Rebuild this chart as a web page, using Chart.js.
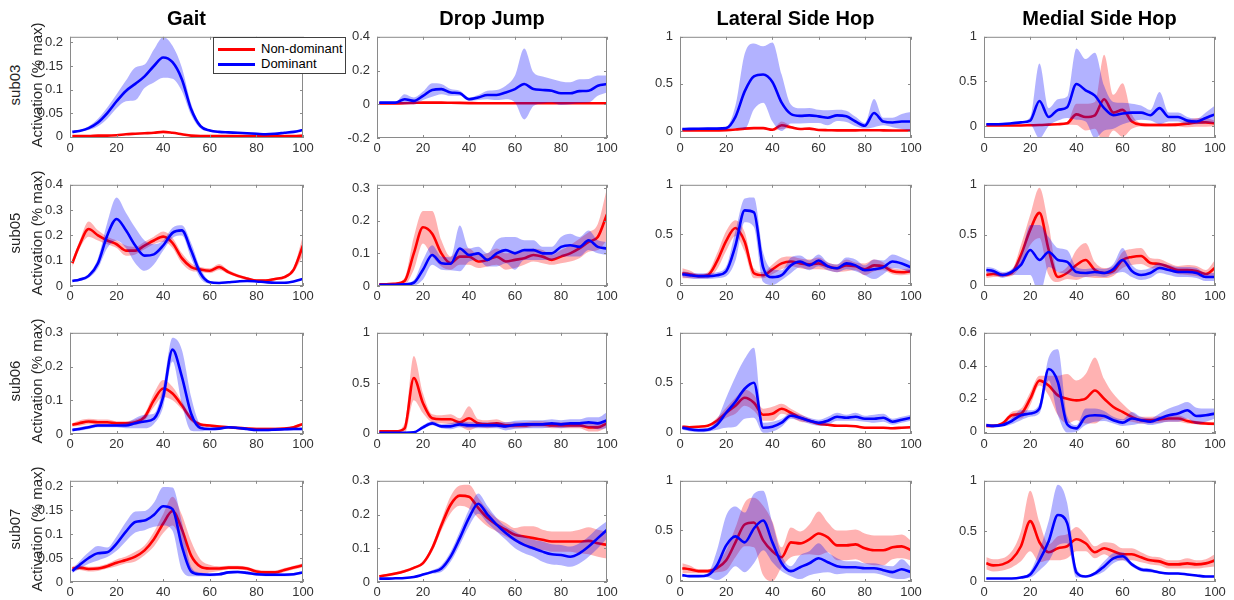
<!DOCTYPE html>
<html>
<head>
<meta charset="utf-8">
<script src="https://cdn.jsdelivr.net/npm/chart.js@4/dist/chart.umd.min.js"></script>
<style>
  body { margin: 0; background: #fff; font-family: "Liberation Sans", Arial, sans-serif; }
  #wrap { position: relative; width: 1234px; height: 600px; overflow: hidden; }
  canvas { position: absolute; }
  .title { position: absolute; top: 8px; font-size: 20px; line-height: 20px; font-weight: bold; color: #000; white-space: nowrap; transform: translateX(-50%); }
  .ylab { position: absolute; font-size: 15px; line-height: 17px; color: #262626; white-space: nowrap; transform: translate(-50%, -50%) rotate(-90deg); }
  .legend { position: absolute; left: 213px; top: 37px; width: 131px; height: 35px; background: #fff; border: 1px solid #404040; font-size: 13px; color: #000; }
  .legend .row { position: absolute; left: 4px; height: 15px; line-height: 15px; white-space: nowrap; }
  .legend .swatch { display: inline-block; width: 37px; height: 3px; vertical-align: middle; margin-right: 6px; }
</style>
</head>
<body>
<div id="wrap"></div>
<script>
// % of movement cycle
const pct = [1, 4, 8, 12, 16, 20, 24, 28, 32, 36, 40, 44, 48, 52, 56, 60, 64, 68, 72, 76, 80, 84, 88, 92, 96, 100];
const xTicks = [0, 20, 40, 60, 80, 100];
const tasks = ['Gait', 'Drop Jump', 'Lateral Side Hop', 'Medial Side Hop'];
const subjects = ['sub03', 'sub05', 'sub06', 'sub07'];
const seriesNames = ['Non-dominant', 'Dominant'];

// sub03
const gait03Nd   = [0.001,0.001,0.001,0.002,0.002,0.003,0.005,0.006,0.007,0.008,0.010,0.008,0.005,0.002,0.001,0.001,0.001,0.001,0.001,0.001,0.001,0.001,0.001,0.001,0.001,0.002];
const gait03NdSd = [0.001,0.001,0.001,0.001,0.001,0.001,0.001,0.001,0.001,0.001,0.002,0.001,0.001,0.001,0.001,0.001,0.001,0.001,0.001,0.001,0.001,0.001,0.001,0.001,0.001,0.001];
const gait03D    = [0.010,0.012,0.018,0.030,0.050,0.075,0.097,0.112,0.128,0.150,0.168,0.158,0.122,0.058,0.022,0.013,0.010,0.009,0.008,0.007,0.006,0.005,0.006,0.008,0.010,0.014];
const gait03DSd  = [0.002,0.002,0.004,0.008,0.012,0.015,0.022,0.035,0.025,0.035,0.043,0.035,0.025,0.012,0.005,0.002,0.002,0.002,0.002,0.002,0.002,0.002,0.002,0.002,0.002,0.002];

const dj03Nd   = [0.005,0.005,0.005,0.006,0.008,0.010,0.010,0.010,0.009,0.008,0.007,0.006,0.006,0.006,0.006,0.006,0.006,0.006,0.006,0.006,0.006,0.006,0.006,0.006,0.006,0.006];
const dj03NdSd = [0.003,0.003,0.003,0.003,0.003,0.003,0.003,0.003,0.003,0.003,0.003,0.003,0.003,0.003,0.003,0.003,0.003,0.003,0.003,0.003,0.003,0.003,0.003,0.003,0.003,0.003];
const dj03D    = [0.010,0.010,0.010,0.030,0.020,0.050,0.085,0.090,0.070,0.065,0.030,0.040,0.055,0.055,0.070,0.090,0.120,0.090,0.085,0.080,0.065,0.065,0.078,0.080,0.110,0.120];
const dj03DSd  = [0.005,0.005,0.005,0.030,0.020,0.025,0.040,0.030,0.020,0.015,0.010,0.015,0.025,0.030,0.040,0.080,0.210,0.100,0.080,0.070,0.070,0.065,0.070,0.070,0.060,0.050];

const lat03Nd   = [0.005,0.005,0.005,0.005,0.006,0.008,0.015,0.025,0.030,0.030,0.012,0.060,0.040,0.020,0.025,0.010,0.008,0.006,0.006,0.006,0.008,0.008,0.006,0.005,0.005,0.005];
const lat03NdSd = [0.005,0.005,0.005,0.005,0.005,0.005,0.008,0.010,0.010,0.010,0.010,0.040,0.015,0.010,0.010,0.008,0.005,0.005,0.005,0.005,0.005,0.005,0.005,0.005,0.005,0.005];
const lat03D    = [0.020,0.022,0.024,0.025,0.025,0.030,0.150,0.420,0.580,0.600,0.520,0.300,0.180,0.160,0.165,0.155,0.140,0.165,0.155,0.100,0.055,0.190,0.100,0.090,0.100,0.100];
const lat03DSd  = [0.010,0.010,0.010,0.010,0.010,0.015,0.120,0.400,0.350,0.300,0.420,0.300,0.100,0.080,0.080,0.070,0.080,0.060,0.060,0.050,0.030,0.150,0.040,0.050,0.080,0.100];

const med03Nd   = [0.005,0.005,0.005,0.005,0.006,0.008,0.010,0.015,0.020,0.030,0.130,0.100,0.120,0.300,0.150,0.180,0.050,0.015,0.010,0.010,0.012,0.015,0.025,0.040,0.040,0.030];
const med03NdSd = [0.005,0.005,0.005,0.005,0.005,0.005,0.008,0.010,0.010,0.015,0.120,0.150,0.150,0.500,0.200,0.300,0.080,0.020,0.020,0.020,0.020,0.020,0.040,0.050,0.050,0.030];
const med03D    = [0.020,0.020,0.022,0.030,0.040,0.060,0.280,0.100,0.180,0.210,0.470,0.400,0.340,0.200,0.120,0.140,0.150,0.150,0.120,0.200,0.100,0.100,0.060,0.050,0.090,0.130];
const med03DSd  = [0.010,0.010,0.010,0.010,0.010,0.040,0.420,0.100,0.120,0.120,0.400,0.350,0.480,0.250,0.150,0.120,0.100,0.080,0.060,0.180,0.050,0.050,0.040,0.030,0.060,0.100];

// sub05
const gait05Nd   = [0.090,0.160,0.225,0.200,0.180,0.165,0.140,0.140,0.160,0.180,0.195,0.170,0.110,0.075,0.065,0.060,0.075,0.055,0.040,0.030,0.022,0.022,0.028,0.035,0.065,0.160];
const gait05NdSd = [0.015,0.015,0.030,0.020,0.015,0.015,0.020,0.015,0.015,0.015,0.020,0.020,0.020,0.015,0.010,0.010,0.012,0.008,0.006,0.005,0.005,0.005,0.005,0.006,0.010,0.040];
const gait05D    = [0.020,0.025,0.040,0.090,0.200,0.265,0.220,0.160,0.120,0.125,0.160,0.210,0.220,0.140,0.050,0.015,0.012,0.015,0.018,0.020,0.018,0.015,0.013,0.013,0.018,0.028];
const gait05DSd  = [0.005,0.005,0.008,0.020,0.050,0.085,0.070,0.070,0.060,0.040,0.020,0.020,0.020,0.030,0.020,0.005,0.003,0.003,0.003,0.003,0.003,0.003,0.003,0.003,0.003,0.003];

const dj05Nd   = [0.005,0.005,0.007,0.015,0.100,0.180,0.160,0.100,0.070,0.090,0.090,0.075,0.080,0.090,0.075,0.080,0.085,0.095,0.090,0.080,0.090,0.100,0.115,0.135,0.150,0.220];
const dj05NdSd = [0.002,0.002,0.003,0.010,0.050,0.050,0.070,0.040,0.020,0.025,0.025,0.020,0.020,0.025,0.025,0.025,0.020,0.020,0.020,0.015,0.020,0.025,0.030,0.030,0.040,0.080];
const dj05D    = [0.004,0.004,0.004,0.005,0.010,0.050,0.095,0.070,0.068,0.115,0.095,0.100,0.080,0.100,0.110,0.100,0.110,0.110,0.100,0.100,0.120,0.125,0.120,0.140,0.120,0.115];
const dj05DSd  = [0.002,0.002,0.002,0.003,0.008,0.030,0.030,0.020,0.020,0.070,0.020,0.020,0.020,0.040,0.040,0.050,0.030,0.030,0.020,0.020,0.030,0.035,0.030,0.030,0.020,0.020];

const lat05Nd   = [0.100,0.090,0.070,0.080,0.220,0.430,0.560,0.420,0.100,0.080,0.140,0.200,0.220,0.200,0.190,0.200,0.170,0.150,0.180,0.170,0.140,0.180,0.170,0.120,0.110,0.120];
const lat05NdSd = [0.050,0.040,0.020,0.030,0.080,0.100,0.080,0.100,0.050,0.030,0.050,0.060,0.050,0.050,0.050,0.060,0.040,0.040,0.060,0.040,0.060,0.060,0.040,0.030,0.030,0.030];
const lat05D    = [0.090,0.080,0.070,0.070,0.080,0.120,0.380,0.740,0.720,0.160,0.060,0.080,0.180,0.220,0.180,0.230,0.170,0.150,0.200,0.180,0.130,0.140,0.160,0.220,0.200,0.160];
const lat05DSd  = [0.030,0.030,0.030,0.030,0.030,0.050,0.150,0.120,0.150,0.150,0.080,0.050,0.080,0.060,0.050,0.060,0.040,0.040,0.060,0.060,0.050,0.100,0.070,0.070,0.060,0.060];

const med05Nd   = [0.100,0.110,0.100,0.120,0.300,0.550,0.720,0.350,0.080,0.120,0.200,0.250,0.150,0.120,0.140,0.250,0.280,0.290,0.220,0.210,0.180,0.150,0.150,0.140,0.110,0.170];
const med05NdSd = [0.030,0.030,0.020,0.030,0.100,0.150,0.250,0.250,0.050,0.060,0.150,0.170,0.080,0.050,0.050,0.080,0.080,0.080,0.050,0.050,0.040,0.040,0.050,0.050,0.040,0.080];
const med05D    = [0.150,0.140,0.100,0.130,0.200,0.350,0.250,0.330,0.250,0.230,0.130,0.120,0.130,0.120,0.160,0.250,0.140,0.100,0.120,0.170,0.150,0.130,0.130,0.120,0.080,0.080];
const med05DSd  = [0.030,0.030,0.030,0.030,0.100,0.250,0.350,0.150,0.120,0.120,0.050,0.040,0.040,0.040,0.050,0.120,0.060,0.050,0.050,0.050,0.050,0.050,0.050,0.050,0.040,0.040];

// sub06
const gait06Nd   = [0.027,0.032,0.037,0.035,0.035,0.032,0.032,0.035,0.050,0.100,0.135,0.120,0.085,0.045,0.028,0.025,0.022,0.020,0.018,0.016,0.015,0.015,0.015,0.016,0.020,0.030];
const gait06NdSd = [0.005,0.008,0.008,0.008,0.008,0.006,0.006,0.008,0.010,0.020,0.025,0.020,0.012,0.008,0.005,0.004,0.004,0.004,0.004,0.004,0.004,0.004,0.004,0.004,0.004,0.004];
const gait06D    = [0.012,0.015,0.020,0.025,0.025,0.025,0.025,0.032,0.037,0.045,0.110,0.250,0.170,0.060,0.018,0.015,0.016,0.020,0.018,0.015,0.012,0.012,0.013,0.014,0.015,0.015];
const gait06DSd  = [0.004,0.005,0.005,0.005,0.005,0.005,0.008,0.015,0.020,0.015,0.030,0.035,0.080,0.050,0.010,0.004,0.004,0.004,0.004,0.004,0.004,0.004,0.004,0.004,0.004,0.004];

const dj06Nd   = [0.020,0.020,0.020,0.050,0.550,0.300,0.150,0.140,0.140,0.110,0.150,0.100,0.090,0.100,0.080,0.080,0.080,0.090,0.090,0.080,0.080,0.080,0.080,0.060,0.060,0.100];
const dj06NdSd = [0.005,0.005,0.005,0.050,0.220,0.100,0.040,0.040,0.050,0.040,0.120,0.040,0.040,0.040,0.030,0.030,0.030,0.030,0.030,0.030,0.030,0.030,0.030,0.040,0.040,0.040];
const dj06D    = [0.005,0.005,0.005,0.005,0.010,0.060,0.100,0.070,0.070,0.090,0.080,0.080,0.080,0.080,0.070,0.085,0.090,0.090,0.090,0.100,0.090,0.100,0.100,0.110,0.100,0.130];
const dj06DSd  = [0.005,0.005,0.005,0.005,0.005,0.020,0.020,0.020,0.030,0.030,0.030,0.030,0.030,0.030,0.040,0.040,0.040,0.040,0.040,0.040,0.040,0.040,0.040,0.050,0.060,0.080];

const lat06Nd   = [0.060,0.055,0.060,0.070,0.120,0.200,0.270,0.350,0.300,0.180,0.190,0.240,0.200,0.150,0.120,0.090,0.080,0.070,0.070,0.065,0.050,0.050,0.050,0.045,0.050,0.055];
const lat06NdSd = [0.010,0.010,0.010,0.010,0.030,0.050,0.080,0.080,0.080,0.060,0.070,0.050,0.040,0.040,0.020,0.015,0.010,0.010,0.010,0.010,0.010,0.010,0.010,0.010,0.010,0.010];
const lat06D    = [0.050,0.035,0.025,0.030,0.080,0.200,0.310,0.440,0.500,0.050,0.060,0.100,0.170,0.150,0.120,0.100,0.120,0.160,0.150,0.160,0.140,0.140,0.150,0.110,0.130,0.150];
const lat06DSd  = [0.020,0.020,0.020,0.020,0.050,0.150,0.250,0.300,0.350,0.050,0.050,0.040,0.030,0.030,0.030,0.030,0.040,0.040,0.030,0.040,0.030,0.040,0.040,0.030,0.030,0.030];

const med06Nd   = [0.035,0.035,0.050,0.100,0.110,0.200,0.310,0.280,0.220,0.200,0.190,0.200,0.250,0.200,0.150,0.120,0.090,0.070,0.070,0.075,0.080,0.080,0.065,0.055,0.050,0.048];
const med06NdSd = [0.010,0.010,0.010,0.020,0.030,0.040,0.030,0.060,0.120,0.150,0.120,0.150,0.200,0.120,0.080,0.050,0.030,0.020,0.020,0.020,0.020,0.020,0.015,0.010,0.010,0.010];
const med06D    = [0.040,0.035,0.040,0.065,0.100,0.110,0.140,0.380,0.300,0.045,0.020,0.090,0.100,0.095,0.070,0.055,0.080,0.070,0.060,0.080,0.100,0.110,0.130,0.095,0.100,0.110];
const med06DSd  = [0.010,0.010,0.010,0.020,0.030,0.020,0.030,0.070,0.200,0.050,0.020,0.050,0.040,0.030,0.020,0.020,0.040,0.020,0.020,0.030,0.040,0.050,0.050,0.050,0.040,0.030];

// sub07
const gait07Nd   = [0.028,0.030,0.027,0.028,0.033,0.040,0.046,0.053,0.066,0.089,0.122,0.148,0.110,0.055,0.032,0.028,0.028,0.030,0.030,0.028,0.022,0.020,0.020,0.025,0.030,0.035];
const gait07NdSd = [0.005,0.005,0.005,0.005,0.005,0.007,0.007,0.010,0.010,0.015,0.020,0.030,0.030,0.030,0.015,0.008,0.005,0.004,0.004,0.004,0.004,0.004,0.004,0.004,0.004,0.004];
const gait07D    = [0.023,0.035,0.050,0.060,0.062,0.080,0.105,0.125,0.128,0.140,0.158,0.152,0.075,0.022,0.016,0.015,0.016,0.020,0.021,0.019,0.016,0.015,0.015,0.015,0.016,0.020];
const gait07DSd  = [0.004,0.008,0.012,0.015,0.010,0.015,0.020,0.022,0.020,0.025,0.040,0.045,0.050,0.010,0.004,0.003,0.003,0.003,0.003,0.003,0.003,0.003,0.003,0.003,0.003,0.003];

const dj07Nd   = [0.017,0.020,0.025,0.032,0.042,0.056,0.100,0.168,0.229,0.256,0.253,0.220,0.190,0.170,0.155,0.140,0.135,0.130,0.125,0.120,0.120,0.120,0.120,0.122,0.115,0.110];
const dj07NdSd = [0.004,0.004,0.004,0.004,0.004,0.005,0.010,0.015,0.025,0.030,0.035,0.030,0.025,0.020,0.020,0.020,0.030,0.035,0.030,0.030,0.030,0.030,0.035,0.040,0.040,0.040];
const dj07D    = [0.010,0.010,0.011,0.012,0.015,0.022,0.030,0.040,0.075,0.130,0.190,0.232,0.200,0.170,0.145,0.125,0.110,0.100,0.090,0.082,0.080,0.075,0.085,0.105,0.130,0.155];
const dj07DSd  = [0.002,0.002,0.002,0.002,0.002,0.003,0.005,0.010,0.015,0.020,0.025,0.030,0.025,0.020,0.020,0.025,0.025,0.025,0.030,0.030,0.030,0.030,0.030,0.030,0.030,0.025];

const lat07Nd   = [0.120,0.110,0.090,0.090,0.120,0.200,0.380,0.560,0.580,0.400,0.290,0.230,0.380,0.370,0.410,0.470,0.430,0.350,0.350,0.360,0.320,0.300,0.300,0.330,0.340,0.300];
const lat07NdSd = [0.050,0.040,0.020,0.020,0.040,0.100,0.150,0.220,0.250,0.350,0.300,0.100,0.150,0.120,0.150,0.220,0.150,0.150,0.150,0.150,0.150,0.150,0.150,0.120,0.120,0.100];
const lat07D    = [0.050,0.040,0.040,0.050,0.150,0.350,0.440,0.380,0.520,0.600,0.380,0.170,0.090,0.130,0.170,0.220,0.180,0.140,0.130,0.130,0.120,0.120,0.100,0.080,0.110,0.080];
const lat07DSd  = [0.010,0.010,0.010,0.020,0.150,0.300,0.300,0.300,0.350,0.300,0.200,0.080,0.050,0.120,0.120,0.150,0.100,0.080,0.060,0.060,0.050,0.050,0.050,0.060,0.100,0.050];

const med07Nd   = [0.180,0.160,0.170,0.220,0.350,0.600,0.390,0.290,0.330,0.350,0.420,0.380,0.290,0.330,0.300,0.270,0.270,0.240,0.210,0.200,0.170,0.170,0.180,0.170,0.180,0.210];
const med07NdSd = [0.060,0.060,0.060,0.080,0.150,0.300,0.200,0.080,0.120,0.120,0.120,0.080,0.060,0.060,0.080,0.060,0.060,0.050,0.040,0.040,0.040,0.040,0.050,0.040,0.040,0.060];
const med07D    = [0.030,0.030,0.030,0.030,0.040,0.070,0.210,0.400,0.660,0.580,0.090,0.050,0.080,0.150,0.230,0.250,0.170,0.120,0.110,0.090,0.080,0.080,0.070,0.060,0.050,0.050];
const med07DSd  = [0.005,0.005,0.005,0.005,0.010,0.030,0.100,0.200,0.300,0.200,0.050,0.010,0.020,0.050,0.050,0.040,0.020,0.020,0.020,0.010,0.010,0.010,0.010,0.010,0.010,0.010];

// panels, row by row (subject), column by column (task)
const panels = [
  { nd: gait03Nd, ndSd: gait03NdSd, d: gait03D, dSd: gait03DSd, yMin: -0.003, yMax: 0.212, yTicks: [0, 0.05, 0.1, 0.15, 0.2] },
  { nd: dj03Nd,   ndSd: dj03NdSd,   d: dj03D,   dSd: dj03DSd,   yMin: -0.2,   yMax: 0.4,   yTicks: [-0.2, 0, 0.2, 0.4] },
  { nd: lat03Nd,  ndSd: lat03NdSd,  d: lat03D,  dSd: lat03DSd,  yMin: -0.075, yMax: 1,     yTicks: [0, 0.5, 1] },
  { nd: med03Nd,  ndSd: med03NdSd,  d: med03D,  dSd: med03DSd,  yMin: -0.135, yMax: 1,     yTicks: [0, 0.5, 1] },

  { nd: gait05Nd, ndSd: gait05NdSd, d: gait05D, dSd: gait05DSd, yMin: 0,      yMax: 0.4,   yTicks: [0, 0.1, 0.2, 0.3, 0.4] },
  { nd: dj05Nd,   ndSd: dj05NdSd,   d: dj05D,   dSd: dj05DSd,   yMin: 0,      yMax: 0.31,  yTicks: [0, 0.1, 0.2, 0.3] },
  { nd: lat05Nd,  ndSd: lat05NdSd,  d: lat05D,  dSd: lat05DSd,  yMin: -0.03,  yMax: 1,     yTicks: [0, 0.5, 1] },
  { nd: med05Nd,  ndSd: med05NdSd,  d: med05D,  dSd: med05DSd,  yMin: -0.01,  yMax: 1,     yTicks: [0, 0.5, 1] },

  { nd: gait06Nd, ndSd: gait06NdSd, d: gait06D, dSd: gait06DSd, yMin: 0,      yMax: 0.3,   yTicks: [0, 0.1, 0.2, 0.3] },
  { nd: dj06Nd,   ndSd: dj06NdSd,   d: dj06D,   dSd: dj06DSd,   yMin: -0.006, yMax: 1,     yTicks: [0, 0.5, 1] },
  { nd: lat06Nd,  ndSd: lat06NdSd,  d: lat06D,  dSd: lat06DSd,  yMin: -0.013, yMax: 1,     yTicks: [0, 0.5, 1] },
  { nd: med06Nd,  ndSd: med06NdSd,  d: med06D,  dSd: med06DSd,  yMin: -0.014, yMax: 0.6,   yTicks: [0, 0.2, 0.4, 0.6] },

  { nd: gait07Nd, ndSd: gait07NdSd, d: gait07D, dSd: gait07DSd, yMin: 0,      yMax: 0.211, yTicks: [0, 0.05, 0.1, 0.15, 0.2] },
  { nd: dj07Nd,   ndSd: dj07NdSd,   d: dj07D,   dSd: dj07DSd,   yMin: 0,      yMax: 0.3,   yTicks: [0, 0.1, 0.2, 0.3] },
  { nd: lat07Nd,  ndSd: lat07NdSd,  d: lat07D,  dSd: lat07DSd,  yMin: -0.019, yMax: 1,     yTicks: [0, 0.5, 1] },
  { nd: med07Nd,  ndSd: med07NdSd,  d: med07D,  dSd: med07DSd,  yMin: -0.005, yMax: 1,     yTicks: [0, 0.5, 1] }
];

// plot box edges in the page
const colLeft = [70, 377, 680, 984];
const colRight = [303, 607, 911, 1215];
const rowTop = [32, 180, 328, 476];
const rowBottom = [138, 286, 434, 582];
const padL = 45, padT = 10, padR = 16, padB = 22;

const RED = '#ff0000', BLUE = '#0000ff';
const RED_BAND = 'rgba(255,0,0,0.3)', BLUE_BAND = 'rgba(0,0,255,0.3)';
const FONT = '"Liberation Sans", Arial, sans-serif';

const wrap = document.getElementById('wrap');

const pts = vals => pct.map((x, i) => ({ x: x, y: vals[i] }));
const upper = (m, s) => pct.map((x, i) => ({ x: x, y: m[i] + s[i] }));
const lower = (m, s) => pct.map((x, i) => ({ x: x, y: m[i] - s[i] }));

// MATLAB style box with inward ticks on all four sides
const boxPlugin = {
  id: 'matlabBox',
  afterDraw(chart) {
    const { ctx, chartArea: a, scales } = chart;
    const x = scales.x, y = scales.y;
    ctx.save();
    ctx.strokeStyle = '#8a8a8a';
    ctx.lineWidth = 1;
    ctx.strokeRect(a.left + 0.5, a.top + 0.5, a.right - a.left - 1, a.bottom - a.top - 1);
    ctx.beginPath();
    x.ticks.forEach(t => {
      const px = Math.round(x.getPixelForValue(t.value)) + 0.5;
      ctx.moveTo(px, a.bottom); ctx.lineTo(px, a.bottom - 3);
      ctx.moveTo(px, a.top); ctx.lineTo(px, a.top + 3);
    });
    y.ticks.forEach(t => {
      const py = Math.round(y.getPixelForValue(t.value)) + 0.5;
      ctx.moveTo(a.left, py); ctx.lineTo(a.left + 3, py);
      ctx.moveTo(a.right, py); ctx.lineTo(a.right - 3, py);
    });
    ctx.stroke();
    ctx.restore();
  }
};

function band(data, color, fill, order) {
  return { data: data, borderColor: 'transparent', borderWidth: 0, backgroundColor: color, fill: fill, order: order, pointRadius: 0 };
}
function line(data, color, label, order) {
  return { label: label, data: data, borderColor: color, borderWidth: 2.6, fill: false, order: order, pointRadius: 0 };
}

panels.forEach((p, k) => {
  const r = Math.floor(k / 4), c = k % 4;
  const w = colRight[c] - colLeft[c], h = rowBottom[r] - rowTop[r];
  const cv = document.createElement('canvas');
  cv.width = w + padL + padR;
  cv.height = h + padT + padB;
  cv.style.left = (colLeft[c] - padL) + 'px';
  cv.style.top = (rowTop[r] - padT) + 'px';
  wrap.appendChild(cv);

  const tickFont = { family: FONT, size: 13 };
  new Chart(cv, {
    type: 'line',
    data: {
      datasets: [
        band(upper(p.nd, p.ndSd), RED_BAND, '+1', 5),
        band(lower(p.nd, p.ndSd), 'transparent', false, 4),
        line(pts(p.nd), RED, seriesNames[0], 3),
        band(upper(p.d, p.dSd), BLUE_BAND, '+1', 2),
        band(lower(p.d, p.dSd), 'transparent', false, 1),
        line(pts(p.d), BLUE, seriesNames[1], 0)
      ]
    },
    options: {
      responsive: false,
      animation: false,
      events: [],
      layout: { padding: { left: 0, top: padT, right: padR, bottom: 0 } },
      plugins: { legend: { display: false }, tooltip: { enabled: false } },
      elements: { point: { radius: 0 }, line: { cubicInterpolationMode: 'monotone' } },
      scales: {
        x: {
          type: 'linear', min: 0, max: 100,
          afterBuildTicks: s => { s.ticks = xTicks.map(v => ({ value: v })); },
          afterFit: s => { s.height = padB; },
          grid: { display: false, drawTicks: false },
          border: { display: false },
          ticks: { padding: 3, autoSkip: false, maxRotation: 0, color: '#333', font: tickFont }
        },
        y: {
          type: 'linear', min: p.yMin, max: p.yMax,
          afterBuildTicks: s => { s.ticks = p.yTicks.map(v => ({ value: v })); },
          afterFit: s => { s.width = padL; },
          grid: { display: false, drawTicks: false },
          border: { display: false },
          ticks: { padding: 7, autoSkip: false, color: '#333', font: tickFont, callback: v => String(+v.toFixed(3)) }
        }
      }
    },
    plugins: [boxPlugin]
  });
});

// column titles
tasks.forEach((t, c) => {
  const d = document.createElement('div');
  d.className = 'title';
  d.textContent = t;
  d.style.left = ((colLeft[c] + colRight[c]) / 2) + 'px';
  wrap.appendChild(d);
});

// row labels (two-line y label)
subjects.forEach((s, r) => {
  const cy = (rowTop[r] + rowBottom[r]) / 2;
  [[s, 13.5], ['Activation (% max)', 36]].forEach(([txt, cx]) => {
    const d = document.createElement('div');
    d.className = 'ylab';
    d.textContent = txt;
    d.style.left = cx + 'px';
    d.style.top = cy + 'px';
    wrap.appendChild(d);
  });
});

// legend in the first panel
const lg = document.createElement('div');
lg.className = 'legend';
[[seriesNames[0], RED, 3], [seriesNames[1], BLUE, 18]].forEach(([name, col, top]) => {
  const row = document.createElement('div');
  row.className = 'row';
  row.style.top = top + 'px';
  const sw = document.createElement('span');
  sw.className = 'swatch';
  sw.style.background = col;
  row.appendChild(sw);
  row.appendChild(document.createTextNode(name));
  lg.appendChild(row);
});
wrap.appendChild(lg);
</script>
</body>
</html>
